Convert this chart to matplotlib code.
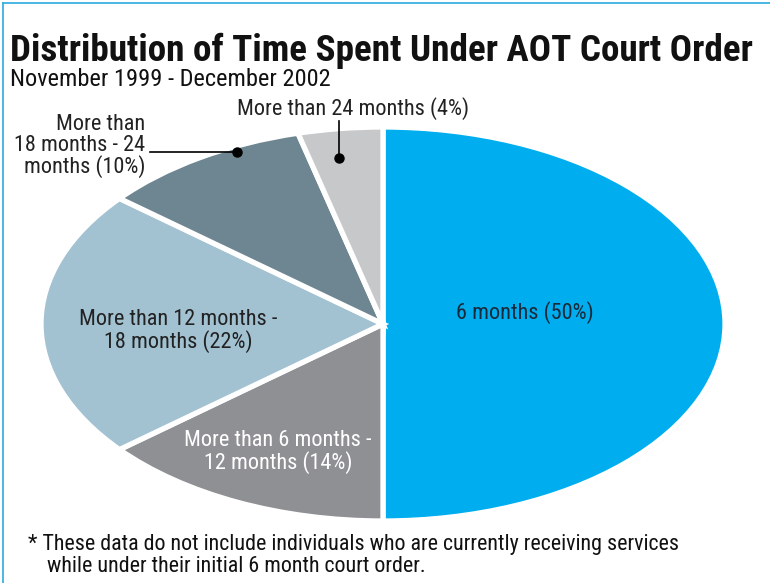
import matplotlib
matplotlib.use("Agg")
import matplotlib.pyplot as plt
from matplotlib.lines import Line2D

plt.rcParams['font.family'] = ['Roboto Condensed', 'Archivo Narrow', 'DejaVu Sans']

title = "Distribution of Time Spent Under AOT Court Order"
subtitle = "November 1999 - December 2002"
footnote_1 = "* These data do not include individuals who are currently receiving services"
footnote_2 = "while under their initial 6 month court order."

categories = ["6 months (50%)",
              "More than 6 months -\n12 months (14%)",
              "More than 12 months -\n18 months (22%)",
              "More than\n18 months - 24\nmonths (10%)",
              "More than 24 months (4%)"]
values = [50, 14, 22, 10, 4]
colors = ["#00ADEE", "#8F9094", "#A2C2D2", "#6E8691", "#C7C8CA"]

W, H = 770, 583
fig = plt.figure(figsize=(W / 100, H / 100), dpi=100)

# ellipse geometry in pixels
cx, cy, rx, ry = 383, 324, 342, 197

def ax_rect(dx=0, dy=0):
    return [(cx - rx + dx) / W, (H - (cy + ry) - dy) / H, 2 * rx / W, 2 * ry / H]

# shadow
axs = fig.add_axes(ax_rect(1.5, 1.5))
axs.pie(values, startangle=90, counterclock=False, colors=['#222222'] * len(values),
        wedgeprops=dict(linewidth=0))
axs.set_aspect('auto')
axs.set_xlim(-1, 1); axs.set_ylim(-1, 1)
axs.axis('off')

ax = fig.add_axes(ax_rect())
ax.pie(values, startangle=90, counterclock=False, colors=colors,
       wedgeprops=dict(edgecolor='white', linewidth=3.8))
ax.set_aspect('auto')
ax.set_xlim(-1, 1); ax.set_ylim(-1, 1)
ax.axis('off')

def px(x, y):
    return (x / W, 1 - y / H)

# titles
fig.text(*px(10, 61), title, fontsize=26.7, fontweight='bold', ha='left', va='baseline', color='#111111')
fig.text(*px(10, 86), subtitle, fontsize=17.6, ha='left', va='baseline', color='#111111')

lab_fs = 16
ls = 0.98
fig.text(*px(525, 313), categories[0], fontsize=lab_fs, ha='center', va='center', color='#1a2a3a')
fig.text(*px(278, 452), categories[1], fontsize=lab_fs, ha='center', va='center', color='white',
         linespacing=ls)
fig.text(*px(178, 331), categories[2], fontsize=lab_fs, ha='center', va='center', color='#222222',
         linespacing=ls)
fig.text(*px(145, 146), categories[3], fontsize=lab_fs, ha='right', va='center', color='#222222',
         linespacing=ls)
fig.text(*px(353, 109), categories[4], fontsize=lab_fs, ha='center', va='center', color='#222222')

# leader lines
fig.add_artist(Line2D([150 / W, 237 / W], [1 - 152 / H, 1 - 152 / H], color='black', lw=1.2))
fig.add_artist(Line2D([237 / W], [1 - 152 / H], color='black', marker='o', markersize=6.5, lw=0))
fig.add_artist(Line2D([339 / W, 339 / W], [1 - 121 / H, 1 - 158 / H], color='black', lw=1.2))
fig.add_artist(Line2D([339 / W], [1 - 158 / H], color='black', marker='o', markersize=6.5, lw=0))

# footnote
fig.text(*px(28, 550), footnote_1, fontsize=15.8, ha='left', va='baseline', color='#111111')
fig.text(*px(47, 572), footnote_2, fontsize=15.8, ha='left', va='baseline', color='#111111')

# frame lines (top, left)
fig.add_artist(Line2D([3 / W, 1], [1 - 3 / H, 1 - 3 / H], color='#2AAAE2', lw=1.2))
fig.add_artist(Line2D([3 / W, 3 / W], [0, 1 - 3 / H], color='#2AAAE2', lw=1.2))

fig.savefig("out.png", dpi=100, facecolor='white')
